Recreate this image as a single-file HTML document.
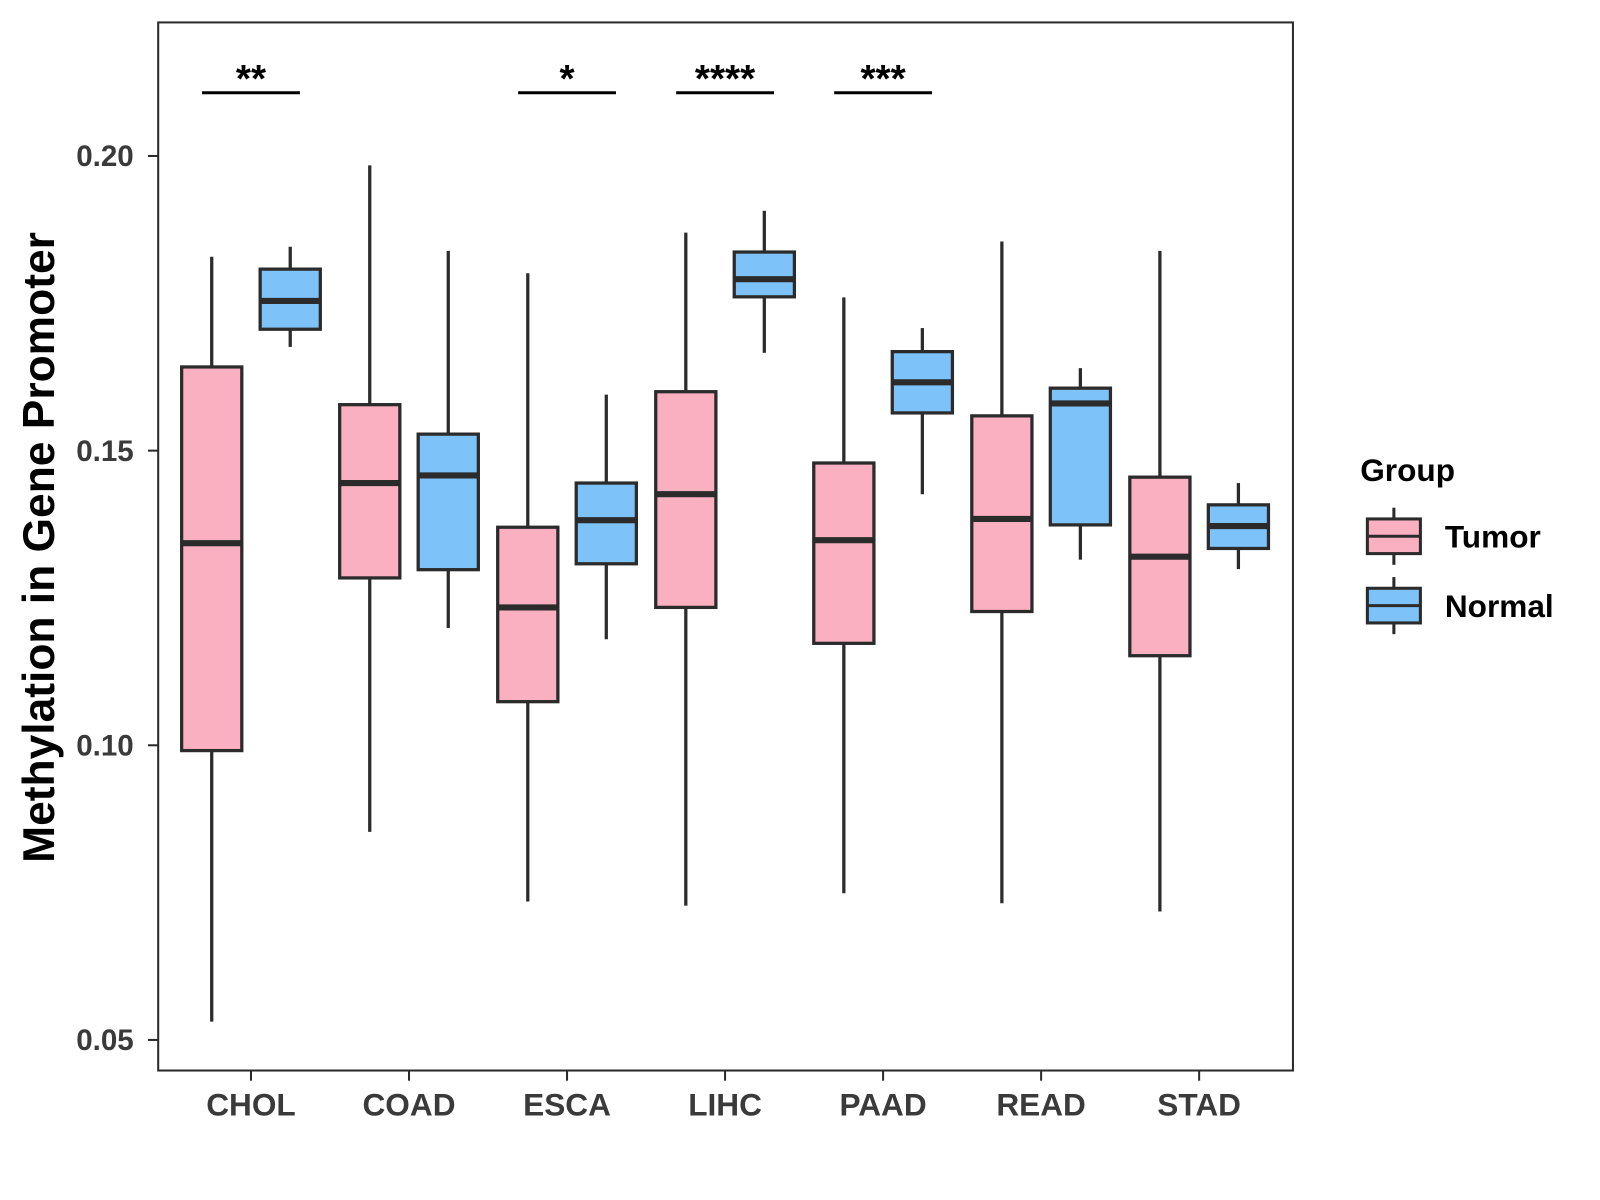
<!DOCTYPE html>
<html><head><meta charset="utf-8"><style>html,body{margin:0;padding:0;background:#fff}svg{display:block}text{font-family:"Liberation Sans",Arial,sans-serif;font-weight:bold}</style></head>
<body>
<svg id="chart" width="1600" height="1200" viewBox="0 0 1569 1177" xmlns="http://www.w3.org/2000/svg">
<rect x="0" y="0" width="1569" height="1177" fill="#fff"/>
<g id="plot"></g>
</svg>
<script>
const categories=["CHOL","COAD","ESCA","LIHC","PAAD","READ","STAD"];
const tumorMin=[0.0531,0.0853,0.0735,0.0728,0.0749,0.0732,0.0718];
const tumorQ1=[0.0991,0.1284,0.1074,0.1234,0.1173,0.1227,0.1152];
const tumorMed=[0.1343,0.1445,0.1234,0.1426,0.1348,0.1384,0.1320];
const tumorQ3=[0.1642,0.1578,0.1370,0.1600,0.1479,0.1559,0.1455];
const tumorMax=[0.1829,0.1984,0.1801,0.1870,0.1760,0.1855,0.1839];
const normalMin=[0.1676,0.1199,0.1180,0.1666,0.1426,0.1315,0.1299];
const normalQ1=[0.1706,0.1298,0.1308,0.1761,0.1564,0.1374,0.1334];
const normalMed=[0.1754,0.1458,0.1382,0.1791,0.1616,0.1580,0.1372];
const normalQ3=[0.1808,0.1528,0.1445,0.1837,0.1668,0.1606,0.1408];
const normalMax=[0.1846,0.1839,0.1595,0.1907,0.1708,0.1640,0.1445];
const signif=["**","","*","****","***","",""];
const yTicks=[0.05,0.10,0.15,0.20];
const yTickLabels=["0.05","0.10","0.15","0.20"];

const NS="http://www.w3.org/2000/svg";
const g=document.getElementById('plot');
const P={l:155,r:1268,t:22,b:1050};
function y(v){return 153+(0.20-v)*5780;}
function x(i){return 246+155*i;}
function mk(tag,attrs,parent){const e=document.createElementNS(NS,tag);for(const k in attrs)e.setAttribute(k,attrs[k]);(parent||g).appendChild(e);return e;}
const stroke="#2b2b2b";

yTicks.forEach((v,i)=>{
  const t=mk('line',{x1:P.l-10,x2:P.l,y1:y(v),y2:y(v),stroke:stroke,'stroke-width':2});
  
  
  const l=mk('text',{x:P.l-24,y:y(v)+10,'text-anchor':'end','font-size':29,fill:'#3a3a3a'});
  l.textContent=yTickLabels[i];
  
  
});
categories.forEach((c,i)=>{
  const t=mk('line',{x1:x(i),x2:x(i),y1:P.b,y2:P.b+10,stroke:stroke,'stroke-width':2});
  
  
  const l=mk('text',{x:x(i),y:P.b+44,'text-anchor':'middle','font-size':31,fill:'#3a3a3a'});
  l.textContent=c;
  
  
});

function box(cx,mn,q1,md,q3,mx,fill,name){
  const grp=mk('g',{});
  
  
  mk('line',{x1:cx,x2:cx,y1:y(mx),y2:y(q3),stroke:stroke,'stroke-width':3.2},grp);
  mk('line',{x1:cx,x2:cx,y1:y(q1),y2:y(mn),stroke:stroke,'stroke-width':3.2},grp);
  mk('rect',{x:cx-29.5,y:y(q3),width:59,height:y(q1)-y(q3),fill:fill,stroke:stroke,'stroke-width':3.2},grp);
  mk('line',{x1:cx-29.5,x2:cx+29.5,y1:y(md),y2:y(md),stroke:stroke,'stroke-width':6},grp);
}
categories.forEach((c,i)=>{
  box(x(i)-38.5,tumorMin[i],tumorQ1[i],tumorMed[i],tumorQ3[i],tumorMax[i],'#FBB0C2','tumor-box-'+c.toLowerCase());
  box(x(i)+38.5,normalMin[i],normalQ1[i],normalMed[i],normalQ3[i],normalMax[i],'#7DC2F8','normal-box-'+c.toLowerCase());
  if(signif[i]){
    const b=mk('line',{x1:x(i)-48,x2:x(i)+48,y1:91,y2:91,stroke:'#000','stroke-width':3});
    
    
    const s=mk('text',{x:x(i),y:90,'text-anchor':'middle','font-size':38,fill:'#000'});
    s.textContent=signif[i];
    
    
  }
});

const frame=mk('rect',{x:P.l,y:P.t,width:P.r-P.l,height:P.b-P.t,fill:'none',stroke:stroke,'stroke-width':2});



const yt=mk('text',{x:0,y:0,transform:'translate(53,537) rotate(-90)','text-anchor':'middle','font-size':43.5,fill:'#000'});
yt.textContent='Methylation in Gene Promoter';



const lg=mk('g',{});


const lt=mk('text',{x:1334,y:472,'font-size':31,fill:'#000'},lg);
lt.textContent='Group';


[['Tumor','#FBB0C2',526],['Normal','#7DC2F8',594]].forEach(([n,f,cy])=>{
  const e=mk('g',{},lg);
  
  
  mk('line',{x1:1367,x2:1367,y1:cy-28,y2:cy+28,stroke:stroke,'stroke-width':3},e);
  mk('rect',{x:1341,y:cy-17,width:52,height:34,fill:f,stroke:stroke,'stroke-width':3},e);
  mk('line',{x1:1341,x2:1393,y1:cy,y2:cy,stroke:stroke,'stroke-width':3},e);
  const t=mk('text',{x:1417,y:cy+11,'font-size':31,fill:'#000'},e);
  t.textContent=n;
});
</script>
</body></html>
